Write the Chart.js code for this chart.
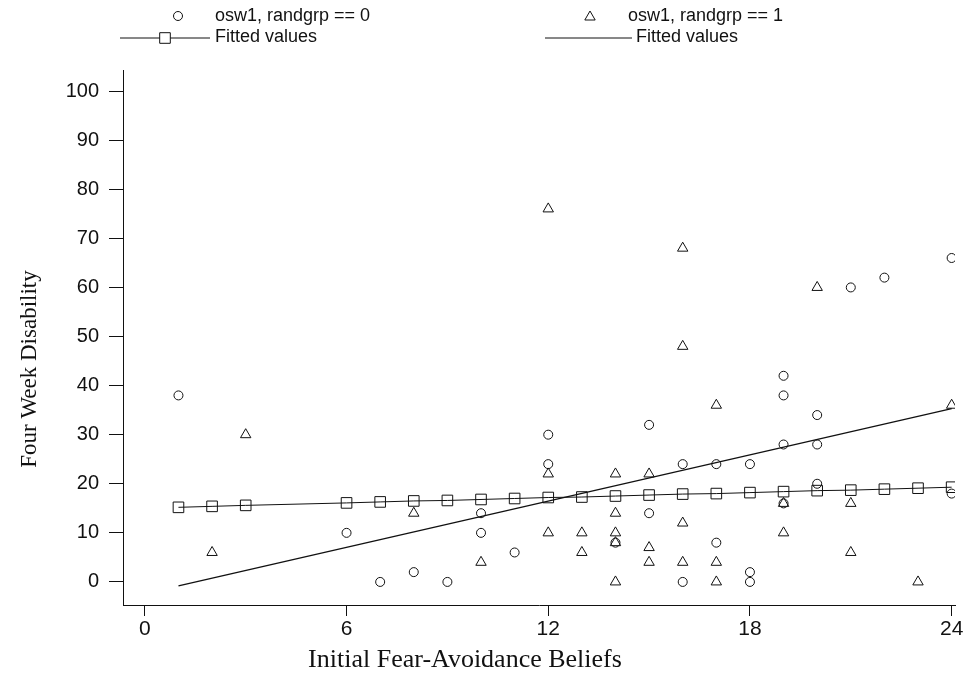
<!DOCTYPE html>
<html>
<head>
<meta charset="utf-8">
<script src="https://cdn.jsdelivr.net/npm/chart.js@4"></script>
<style>
  html, body { margin: 0; padding: 0; background: #fff; }
  #wrap { width: 967px; height: 674px; }
</style>
</head>
<body>
<div id="wrap"><canvas id="fabChart" width="967" height="674"></canvas></div>
<script>
// tick labels
const xTicks = [0, 6, 12, 18, 24];
const yTicks = [0, 10, 20, 30, 40, 50, 60, 70, 80, 90, 100];

// osw1, randgrp == 0 (circles)
const grp0X = [1, 6, 7, 8, 9, 10, 10, 11, 12, 12, 14, 15, 15, 16, 16, 17, 17, 18, 18, 18, 19, 19, 19, 19, 20, 20, 20, 21, 22, 24, 24];
const grp0Y = [38, 10, 0, 2, 0, 14, 10, 6, 30, 24, 8, 32, 14, 24, 0, 24, 8, 24, 2, 0, 42, 38, 28, 16, 34, 28, 20, 60, 62, 66, 18];

// osw1, randgrp == 1 (triangles)
const grp1X = [2, 3, 8, 10, 12, 12, 12, 13, 13, 14, 14, 14, 14, 14, 15, 15, 15, 16, 16, 16, 16, 17, 17, 17, 19, 19, 20, 21, 21, 23, 24];
const grp1Y = [6, 30, 14, 4, 76, 22, 10, 10, 6, 22, 14, 10, 8, 0, 22, 7, 4, 68, 48, 12, 4, 36, 4, 0, 16, 10, 60, 16, 6, 0, 36];

// fitted values, group 0 (squares)
const fit0X = [1, 2, 3, 6, 7, 8, 9, 10, 11, 12, 13, 14, 15, 16, 17, 18, 19, 20, 21, 22, 23, 24];
const fit0Y = [15.2, 15.4, 15.6, 16.1, 16.3, 16.5, 16.6, 16.8, 17.0, 17.2, 17.3, 17.5, 17.7, 17.9, 18.0, 18.2, 18.4, 18.6, 18.7, 18.9, 19.1, 19.3];

// fitted values, group 1 (plain line)
const fit1X = [1, 24];
const fit1Y = [-0.8, 35.3];

const ink = "#111";
const sansFont = "'Liberation Sans', Arial, sans-serif";
const serifFont = "'Liberation Serif', 'Times New Roman', serif";

const toPts = (xs, ys) => xs.map((x, i) => ({ x: x, y: ys[i] }));

// legend + axis titles drawn by hand, stata style
const stataDecor = {
    id: "stataDecor",
    afterDraw(chart) {
        const ctx = chart.ctx;
        const ds = chart.data.datasets;
        const mark = (style, r, x, y) => {
            ctx.fillStyle = "#fff";
            Chart.helpers.drawPoint(ctx, { pointStyle: style, radius: r, rotation: 0, borderWidth: 1 }, x, y);
            ctx.fillStyle = ink;
        };
        ctx.save();
        ctx.fillStyle = ink;
        ctx.strokeStyle = ink;
        ctx.lineWidth = 1;
        ctx.textBaseline = "middle";
        ctx.font = "18px " + sansFont;

        // row 1
        mark("circle", 4.5, 178, 16);
        ctx.fillText(ds[0].label, 215, 16);
        mark("triangle", 6, 590, 17);
        ctx.fillText(ds[1].label, 628, 16);

        // row 2
        ctx.beginPath();
        ctx.moveTo(120, 38);
        ctx.lineTo(210, 38);
        ctx.stroke();
        mark("rect", 7.5, 165, 38);
        ctx.fillText(ds[2].label, 215, 37);
        ctx.beginPath();
        ctx.moveTo(545, 38);
        ctx.lineTo(632, 38);
        ctx.stroke();
        ctx.fillText(ds[3].label, 636, 37);

        // axis titles
        ctx.textAlign = "center";
        ctx.font = "26px " + serifFont;
        ctx.fillText("Initial Fear-Avoidance Beliefs", 465, 660);
        ctx.font = "23px " + serifFont;
        ctx.translate(30, 369);
        ctx.rotate(-Math.PI / 2);
        ctx.fillText("Four Week Disability", 0, 0);
        ctx.restore();
    },
};

new Chart(document.getElementById("fabChart"), {
    type: "scatter",
    data: {
        datasets: [
            {
                label: "osw1, randgrp == 0",
                data: toPts(grp0X, grp0Y),
                pointStyle: "circle",
                pointRadius: 4.5,
                borderWidth: 1,
                borderColor: ink,
                backgroundColor: "rgba(0,0,0,0)",
            },
            {
                label: "osw1, randgrp == 1",
                data: toPts(grp1X, grp1Y),
                pointStyle: "triangle",
                pointRadius: 6,
                borderWidth: 1,
                borderColor: ink,
                backgroundColor: "rgba(0,0,0,0)",
            },
            {
                label: "Fitted values",
                data: toPts(fit0X, fit0Y),
                showLine: true,
                pointStyle: "rect",
                pointRadius: 7.5,
                borderWidth: 1,
                borderColor: ink,
                backgroundColor: "rgba(0,0,0,0)",
            },
            {
                label: "Fitted values",
                data: toPts(fit1X, fit1Y),
                showLine: true,
                pointRadius: 0,
                borderWidth: 1.4,
                borderColor: ink,
            },
        ],
    },
    options: {
        responsive: false,
        animation: false,
        layout: { padding: { top: 70, right: 12, left: 0, bottom: 0 } },
        plugins: {
            legend: { display: false },
            tooltip: { enabled: false },
        },
        scales: {
            x: {
                type: "linear",
                min: -0.65,
                max: 24.1,
                afterFit: (s) => { s.height = 69; },
                afterBuildTicks: (s) => { s.ticks = xTicks.map((v) => ({ value: v })); },
                grid: { drawOnChartArea: false, tickLength: 11, color: ink },
                border: { color: ink, width: 1 },
                ticks: { color: ink, padding: 1, font: { size: 21, family: sansFont } },
            },
            y: {
                type: "linear",
                min: -4.7,
                max: 104.3,
                afterFit: (s) => { s.width = 123; },
                afterBuildTicks: (s) => { s.ticks = yTicks.map((v) => ({ value: v })); },
                grid: { drawOnChartArea: false, tickLength: 14, color: ink },
                border: { color: ink, width: 1 },
                ticks: { color: ink, padding: 10, font: { size: 20, family: sansFont } },
            },
        },
    },
    plugins: [stataDecor],
});
</script>
</body>
</html>
